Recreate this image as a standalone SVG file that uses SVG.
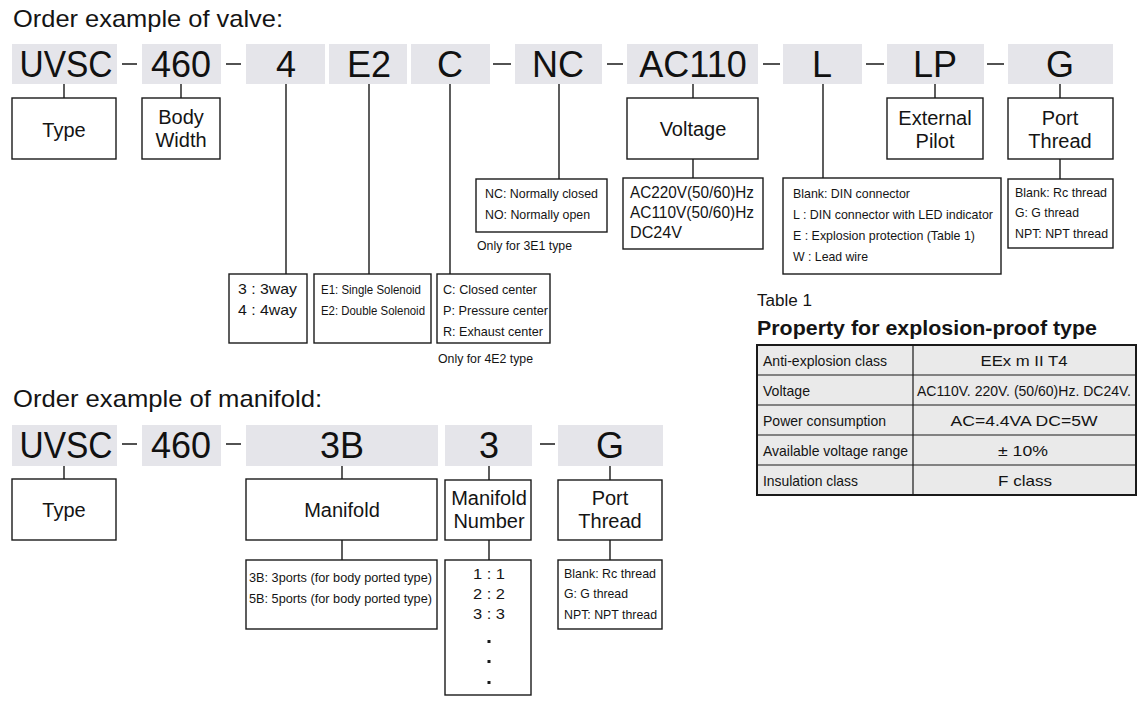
<svg xmlns="http://www.w3.org/2000/svg" width="1147" height="701" viewBox="0 0 1147 701">
<style>
text{font-family:"Liberation Sans",Arial,sans-serif;fill:#141414}
.h{font-size:24px}
.code{font-size:36px;text-anchor:middle;fill:#111}
.lbl{font-size:20px;text-anchor:middle}
.s{font-family:"Liberation Sans Narrow","Liberation Sans",Arial,sans-serif;font-size:13.5px}
.m{font-size:14.5px}
.v{font-size:16px}
.c{text-anchor:middle}
.bg{fill:#e5e5ea}
.box{fill:#fff;stroke:#1a1a1a;stroke-width:1.4}
.ln{stroke:#1a1a1a;stroke-width:1.4;fill:none}
.tb{fill:#eaeaea;stroke:#1a1a1a;stroke-width:2}
.tl{stroke:#1a1a1a;stroke-width:1.2}
</style>
<rect width="1147" height="701" fill="#fff"/>

<text class="h" x="13" y="27" textLength="270" lengthAdjust="spacingAndGlyphs">Order example of valve:</text>
<text class="h" x="13" y="407" textLength="309" lengthAdjust="spacingAndGlyphs">Order example of manifold:</text>

<g id="connectors">
<path class="ln" d="M122 64H137M226 64H241M493 64H511M607 64H623M763 64H780M866 64H884M987 64H1004"/>
<path class="ln" d="M64 84V98M181 84V98M286 84V274M369 84V274M450 84V274M559 84V179M693 84V98M693 159V178M823 84V178M935 84V98M1060 84V98M1060 159V179"/>
<path class="ln" d="M122 444H137M226 444H241M540 444H555"/>
<path class="ln" d="M64 466V479M342 466V479M342 540V560M489 466V480M489 540V560M610 466V480M610 540V560"/>
</g>

<g id="v-uvsc"><rect class="bg" x="12" y="44" width="105" height="40"/><text class="code" x="66" y="77" textLength="93" lengthAdjust="spacingAndGlyphs">UVSC</text></g>
<g id="v-460"><rect class="bg" x="142" y="44" width="79" height="40"/><text class="code" x="181" y="77">460</text></g>
<g id="v-4"><rect class="bg" x="246" y="44" width="79" height="40"/><text class="code" x="286" y="77">4</text></g>
<g id="v-e2"><rect class="bg" x="329" y="44" width="78" height="40"/><text class="code" x="369" y="77">E2</text></g>
<g id="v-c"><rect class="bg" x="411" y="44" width="79" height="40"/><text class="code" x="450" y="77">C</text></g>
<g id="v-nc"><rect class="bg" x="515" y="44" width="87" height="40"/><text class="code" x="558" y="77">NC</text></g>
<g id="v-ac110"><rect class="bg" x="627" y="44" width="131" height="40"/><text class="code" x="693" y="77">AC110</text></g>
<g id="v-l"><rect class="bg" x="783" y="44" width="79" height="40"/><text class="code" x="822" y="77">L</text></g>
<g id="v-lp"><rect class="bg" x="887" y="44" width="97" height="40"/><text class="code" x="935" y="77">LP</text></g>
<g id="v-g"><rect class="bg" x="1008" y="44" width="105" height="40"/><text class="code" x="1060" y="77">G</text></g>

<g id="v-type"><rect class="box" x="12" y="98" width="104" height="61"/><text class="lbl" x="64" y="137">Type</text></g>
<g id="v-body"><rect class="box" x="142" y="98" width="78" height="61"/><text class="lbl" x="181" y="124">Body</text><text class="lbl" x="181" y="147">Width</text></g>
<g id="v-voltage"><rect class="box" x="627" y="98" width="131" height="61"/><text class="lbl" x="693" y="136">Voltage</text></g>
<g id="v-pilot"><rect class="box" x="887" y="98" width="96" height="61"/><text class="lbl" x="935" y="125">External</text><text class="lbl" x="935" y="148">Pilot</text></g>
<g id="v-port"><rect class="box" x="1008" y="98" width="105" height="61"/><text class="lbl" x="1060" y="125">Port</text><text class="lbl" x="1060" y="148">Thread</text></g>

<g id="v-way"><rect class="box" x="229" y="274" width="78" height="69"/>
<text class="m" x="238" y="294" textLength="59" lengthAdjust="spacingAndGlyphs">3 : 3way</text>
<text class="m" x="238" y="315" textLength="59" lengthAdjust="spacingAndGlyphs">4 : 4way</text></g>
<g id="v-sol"><rect class="box" x="314" y="274" width="117" height="69"/>
<text class="s" x="321" y="294" textLength="100" lengthAdjust="spacingAndGlyphs">E1: Single Solenoid</text>
<text class="s" x="321" y="315" textLength="104" lengthAdjust="spacingAndGlyphs">E2: Double Solenoid</text></g>
<g id="v-center"><rect class="box" x="437" y="274" width="113" height="69"/>
<text class="s" x="443" y="294" textLength="94" lengthAdjust="spacingAndGlyphs">C: Closed center</text>
<text class="s" x="443" y="315" textLength="105" lengthAdjust="spacingAndGlyphs">P: Pressure center</text>
<text class="s" x="443" y="336" textLength="100" lengthAdjust="spacingAndGlyphs">R: Exhaust center</text>
<text class="s" x="438" y="363" textLength="95" lengthAdjust="spacingAndGlyphs">Only for 4E2 type</text></g>
<g id="v-ncno"><rect class="box" x="476" y="179" width="131" height="53"/>
<text class="s" x="485" y="198" textLength="113" lengthAdjust="spacingAndGlyphs">NC: Normally closed</text>
<text class="s" x="485" y="219" textLength="105" lengthAdjust="spacingAndGlyphs">NO: Normally open</text>
<text class="s" x="477" y="250" textLength="95" lengthAdjust="spacingAndGlyphs">Only for 3E1 type</text></g>
<g id="v-volts"><rect class="box" x="623" y="178" width="140" height="71"/>
<text class="v" x="630" y="198" textLength="124" lengthAdjust="spacingAndGlyphs">AC220V(50/60)Hz</text>
<text class="v" x="630" y="218" textLength="124" lengthAdjust="spacingAndGlyphs">AC110V(50/60)Hz</text>
<text class="v" x="630" y="238" textLength="52" lengthAdjust="spacingAndGlyphs">DC24V</text></g>
<g id="v-conn"><rect class="box" x="783" y="178" width="218" height="96"/>
<text class="s" x="793" y="198" textLength="117" lengthAdjust="spacingAndGlyphs">Blank: DIN connector</text>
<text class="s" x="793" y="219" textLength="200" lengthAdjust="spacingAndGlyphs">L : DIN connector with LED indicator</text>
<text class="s" x="793" y="240" textLength="182" lengthAdjust="spacingAndGlyphs">E : Explosion protection (Table 1)</text>
<text class="s" x="793" y="261" textLength="75" lengthAdjust="spacingAndGlyphs">W : Lead wire</text></g>
<g id="v-thread"><rect class="box" x="1008" y="179" width="105" height="69"/>
<text class="s" x="1015" y="197" textLength="92" lengthAdjust="spacingAndGlyphs">Blank: Rc thread</text>
<text class="s" x="1015" y="217" textLength="64" lengthAdjust="spacingAndGlyphs">G: G thread</text>
<text class="s" x="1015" y="238" textLength="93" lengthAdjust="spacingAndGlyphs">NPT: NPT thread</text></g>

<g id="table1">
<text class="v" x="757" y="306" textLength="55" lengthAdjust="spacingAndGlyphs">Table 1</text>
<text x="757" y="335" style="font-size:20px;font-weight:bold" textLength="340" lengthAdjust="spacingAndGlyphs">Property for explosion-proof type</text>
<rect class="tb" x="757" y="345" width="379" height="150"/>
<path class="tl" d="M757 375H1136M757 405H1136M757 435H1136M757 465H1136M913 345V495"/>
<text class="m" x="763" y="366" textLength="124" lengthAdjust="spacingAndGlyphs">Anti-explosion class</text>
<text class="m" x="763" y="396" textLength="47" lengthAdjust="spacingAndGlyphs">Voltage</text>
<text class="m" x="763" y="426" textLength="123" lengthAdjust="spacingAndGlyphs">Power consumption</text>
<text class="m" x="763" y="456" textLength="145" lengthAdjust="spacingAndGlyphs">Available voltage range</text>
<text class="m" x="763" y="486" textLength="95" lengthAdjust="spacingAndGlyphs">Insulation class</text>
<text class="m c" x="1024" y="366" textLength="87" lengthAdjust="spacingAndGlyphs">EEx m II T4</text>
<text class="m c" x="1024" y="396" textLength="214" lengthAdjust="spacingAndGlyphs">AC110V. 220V. (50/60)Hz. DC24V.</text>
<text class="m c" x="1024" y="426" textLength="147" lengthAdjust="spacingAndGlyphs">AC=4.4VA  DC=5W</text>
<text class="m c" x="1023" y="456" textLength="50" lengthAdjust="spacingAndGlyphs">± 10%</text>
<text class="m c" x="1025" y="486" textLength="54" lengthAdjust="spacingAndGlyphs">F class</text>
</g>

<g id="m-uvsc"><rect class="bg" x="12" y="425" width="105" height="41"/><text class="code" x="66" y="458" textLength="93" lengthAdjust="spacingAndGlyphs">UVSC</text></g>
<g id="m-460"><rect class="bg" x="142" y="425" width="79" height="41"/><text class="code" x="181" y="458">460</text></g>
<g id="m-3b"><rect class="bg" x="246" y="425" width="192" height="41"/><text class="code" x="342" y="458">3B</text></g>
<g id="m-3"><rect class="bg" x="445" y="425" width="87" height="41"/><text class="code" x="489" y="458">3</text></g>
<g id="m-g"><rect class="bg" x="558" y="425" width="105" height="41"/><text class="code" x="610" y="458">G</text></g>

<g id="m-type"><rect class="box" x="12" y="479" width="104" height="61"/><text class="lbl" x="64" y="517">Type</text></g>
<g id="m-manifold"><rect class="box" x="246" y="479" width="191" height="61"/><text class="lbl" x="342" y="517">Manifold</text></g>
<g id="m-number"><rect class="box" x="445" y="480" width="86" height="60"/><text class="lbl" x="489" y="505">Manifold</text><text class="lbl" x="489" y="528">Number</text></g>
<g id="m-port"><rect class="box" x="558" y="480" width="104" height="60"/><text class="lbl" x="610" y="505">Port</text><text class="lbl" x="610" y="528">Thread</text></g>

<g id="m-ports"><rect class="box" x="246" y="560" width="191" height="69"/>
<text class="s" x="249" y="582" textLength="183" lengthAdjust="spacingAndGlyphs">3B: 3ports (for body ported type)</text>
<text class="s" x="249" y="603" textLength="183" lengthAdjust="spacingAndGlyphs">5B: 5ports (for body ported type)</text></g>
<g id="m-nums"><rect class="box" x="445" y="560" width="86" height="135"/>
<text class="m" x="473" y="579" textLength="32" lengthAdjust="spacingAndGlyphs">1 : 1</text>
<text class="m" x="473" y="599" textLength="32" lengthAdjust="spacingAndGlyphs">2 : 2</text>
<text class="m" x="473" y="619" textLength="32" lengthAdjust="spacingAndGlyphs">3 : 3</text>
<rect x="487.5" y="640" width="3" height="3" fill="#1a1a1a"/>
<rect x="487.5" y="660" width="3" height="3" fill="#1a1a1a"/>
<rect x="487.5" y="681" width="3" height="3" fill="#1a1a1a"/></g>
<g id="m-thread"><rect class="box" x="558" y="560" width="104" height="69"/>
<text class="s" x="564" y="578" textLength="92" lengthAdjust="spacingAndGlyphs">Blank: Rc thread</text>
<text class="s" x="564" y="598" textLength="64" lengthAdjust="spacingAndGlyphs">G: G thread</text>
<text class="s" x="564" y="619" textLength="93" lengthAdjust="spacingAndGlyphs">NPT: NPT thread</text></g>
</svg>
